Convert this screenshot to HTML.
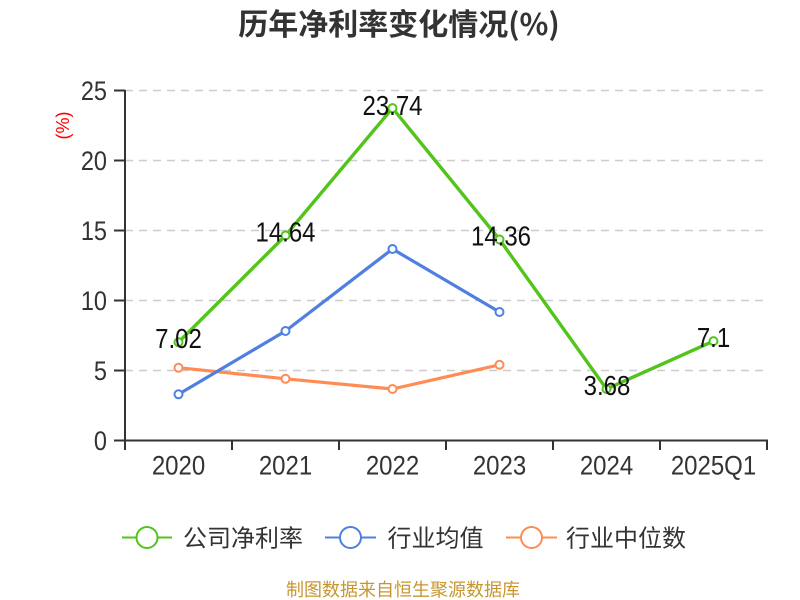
<!DOCTYPE html>
<html>
<head>
<meta charset="utf-8">
<style>
  html,body{margin:0;padding:0;background:#fff;}
  svg{display:block;}
  text{font-family:"Liberation Sans","Noto Sans CJK SC",sans-serif;}
  .cjk{font-family:"Noto Sans CJK SC","Liberation Sans",sans-serif;}
</style>
</head>
<body>
<svg width="800" height="600" viewBox="0 0 800 600" xmlns="http://www.w3.org/2000/svg">
  <rect width="800" height="600" fill="#fff"/>
  <!-- title -->
  <text class="cjk" x="399" y="22" text-anchor="middle" dominant-baseline="central" font-size="30" font-weight="bold" fill="#333">历年净利率变化情况(%)</text>

  <!-- y axis name -->
  <text transform="translate(63,125.5) rotate(-90)" text-anchor="middle" dominant-baseline="central" font-size="18" fill="#ff0000">(%)</text>

  <!-- gridlines -->
  <g stroke="#cccccc" stroke-width="1.5" stroke-dasharray="8,6">
    <line x1="125" y1="90.5" x2="768" y2="90.5"/>
    <line x1="125" y1="160.5" x2="768" y2="160.5"/>
    <line x1="125" y1="230.5" x2="768" y2="230.5"/>
    <line x1="125" y1="300.5" x2="768" y2="300.5"/>
    <line x1="125" y1="370.5" x2="768" y2="370.5"/>
  </g>

  <!-- axes -->
  <g stroke="#333" stroke-width="2" fill="none">
    <line x1="125" y1="90" x2="125" y2="441"/>
    <line x1="124" y1="440.5" x2="768" y2="440.5"/>
    <line x1="114" y1="90.5" x2="125" y2="90.5"/>
    <line x1="114" y1="160.5" x2="125" y2="160.5"/>
    <line x1="114" y1="230.5" x2="125" y2="230.5"/>
    <line x1="114" y1="300.5" x2="125" y2="300.5"/>
    <line x1="114" y1="370.5" x2="125" y2="370.5"/>
    <line x1="114" y1="440.5" x2="125" y2="440.5"/>
    <line x1="125" y1="440" x2="125" y2="450"/>
    <line x1="232" y1="440" x2="232" y2="450"/>
    <line x1="339" y1="440" x2="339" y2="450"/>
    <line x1="446" y1="440" x2="446" y2="450"/>
    <line x1="553" y1="440" x2="553" y2="450"/>
    <line x1="660" y1="440" x2="660" y2="450"/>
    <line x1="767" y1="440" x2="767" y2="450"/>
  </g>

  <!-- y labels -->
  <g font-size="23.5" fill="#333" text-anchor="end">
    <text transform="translate(107,100) scale(1,1.15)">25</text>
    <text transform="translate(107,170) scale(1,1.15)">20</text>
    <text transform="translate(107,240) scale(1,1.15)">15</text>
    <text transform="translate(107,310) scale(1,1.15)">10</text>
    <text transform="translate(107,380) scale(1,1.15)">5</text>
    <text transform="translate(107,450) scale(1,1.15)">0</text>
  </g>

  <!-- x labels -->
  <g font-size="24" fill="#333" text-anchor="middle">
    <text transform="translate(178.5,474.3) scale(1,1.12)">2020</text>
    <text transform="translate(285.5,474.3) scale(1,1.12)">2021</text>
    <text transform="translate(392.5,474.3) scale(1,1.12)">2022</text>
    <text transform="translate(499.5,474.3) scale(1,1.12)">2023</text>
    <text transform="translate(606.5,474.3) scale(1,1.12)">2024</text>
    <text transform="translate(713.5,474.3) scale(1,1.12)">2025Q1</text>
  </g>

  <!-- orange series -->
  <polyline points="178.5,367.7 285.5,378.8 392.5,389 499.5,364.8" fill="none" stroke="#ff8c55" stroke-width="3.2" stroke-linejoin="round"/>
  <g fill="#fff" stroke="#ff8c55" stroke-width="2">
    <circle cx="178.5" cy="367.7" r="4"/>
    <circle cx="285.5" cy="378.8" r="4"/>
    <circle cx="392.5" cy="389" r="4"/>
    <circle cx="499.5" cy="364.8" r="4"/>
  </g>

  <!-- blue series -->
  <polyline points="178.5,394.3 285.5,331 392.5,249 499.5,312" fill="none" stroke="#4f7fe0" stroke-width="3.2" stroke-linejoin="round"/>
  <g fill="#fff" stroke="#4f7fe0" stroke-width="2">
    <circle cx="178.5" cy="394.3" r="4"/>
    <circle cx="285.5" cy="331" r="4"/>
    <circle cx="392.5" cy="249" r="4"/>
    <circle cx="499.5" cy="312" r="4"/>
  </g>

  <!-- green series -->
  <polyline points="178.5,342.2 285.5,235.5 392.5,108.1 499.5,239.5 606.5,389 713.5,341.1" fill="none" stroke="#52c41a" stroke-width="3.4" stroke-linejoin="round"/>
  <g fill="#fff" stroke="#52c41a" stroke-width="2">
    <circle cx="178.5" cy="342.2" r="4"/>
    <circle cx="285.5" cy="235.5" r="4"/>
    <circle cx="392.5" cy="108.1" r="4"/>
    <circle cx="499.5" cy="239.5" r="4"/>
    <circle cx="606.5" cy="389" r="4"/>
    <circle cx="713.5" cy="341.1" r="4"/>
  </g>

  <!-- data labels -->
  <g font-size="24" fill="#111" text-anchor="middle">
    <text transform="translate(178.5,348) scale(1,1.16)">7.02</text>
    <text transform="translate(285.5,241.5) scale(1,1.16)">14.64</text>
    <text transform="translate(392.5,115) scale(1,1.16)">23.74</text>
    <text transform="translate(501,245.5) scale(1,1.16)">14.36</text>
    <text transform="translate(607,395) scale(1,1.16)">3.68</text>
    <text transform="translate(713.5,347) scale(1,1.16)">7.1</text>
  </g>

  <!-- legend -->
  <g stroke-width="2">
    <line x1="122" y1="537.5" x2="172" y2="537.5" stroke="#52c41a"/>
    <circle cx="147" cy="537.5" r="10.5" fill="#fff" stroke="#52c41a"/>
    <line x1="325" y1="537.5" x2="376" y2="537.5" stroke="#4f7fe0"/>
    <circle cx="350.5" cy="537.5" r="10.5" fill="#fff" stroke="#4f7fe0"/>
    <line x1="506" y1="537.5" x2="557" y2="537.5" stroke="#ff8c55"/>
    <circle cx="531.5" cy="537.5" r="10.5" fill="#fff" stroke="#ff8c55"/>
  </g>
  <g class="cjk" font-size="24" fill="#333" dominant-baseline="central">
    <text class="cjk" x="183" y="536">公司净利率</text>
    <text class="cjk" x="387.5" y="536">行业均值</text>
    <text class="cjk" x="566" y="536">行业中位数</text>
  </g>

  <!-- footer -->
  <text class="cjk" x="403" y="589" text-anchor="middle" dominant-baseline="central" font-size="18" fill="#c9962e">制图数据来自恒生聚源数据库</text>
</svg>
</body>
</html>
